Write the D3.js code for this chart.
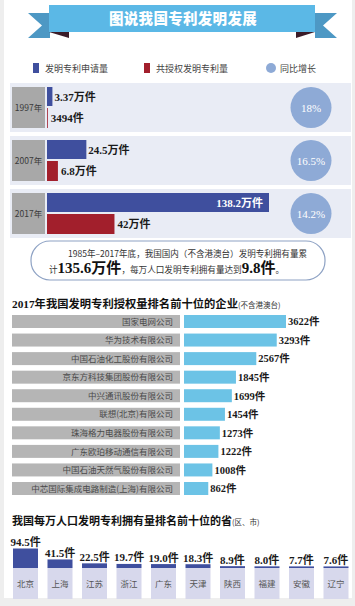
<!DOCTYPE html>
<html><head><meta charset="utf-8">
<script src="https://cdn.jsdelivr.net/npm/d3@7"></script>
<style>
html,body{margin:0;padding:0;background:#eeeeee;}
svg{display:block;}
</style></head>
<body>
<svg id="c" width="355" height="606"></svg>
<script>
// ---- data ----
const years = ["1997年", "2007年", "2017年"];
const applications = [3.37, 24.5, 138.2];          // 万件
const grants = [0.3494, 6.8, 42];                  // 万件
const applicationLabels = ["3.37万件", "24.5万件", "138.2万件"];
const grantLabels = ["3494件", "6.8万件", "42万件"];
const growthLabels = ["18%", "16.5%", "14.2%"];

const companies = ["国家电网公司", "华为技术有限公司", "中国石油化工股份有限公司", "京东方科技集团股份有限公司",
  "中兴通讯股份有限公司", "联想(北京)有限公司", "珠海格力电器股份有限公司", "广东欧珀移动通信有限公司",
  "中国石油天然气股份有限公司", "中芯国际集成电路制造(上海)有限公司"];
const companyValues = [3622, 3293, 2567, 1845, 1699, 1454, 1273, 1222, 1008, 862];

const provinces = ["北京", "上海", "江苏", "浙江", "广东", "天津", "陕西", "福建", "安徽", "辽宁"];
const provinceValues = [94.5, 41.5, 22.5, 19.7, 19.0, 18.3, 8.9, 8.0, 7.7, 7.6];
const provinceLabels = ["94.5件", "41.5件", "22.5件", "19.7件", "19.0件", "18.3件", "8.9件", "8.0件", "7.7件", "7.6件"];

// ---- style ----
const BLUE = "#3f4f9e", RED = "#a21f2c", CIRCLE = "#8eaad6", SKY = "#6cc3e6";
const SANS = "'Noto Sans CJK SC','Noto Sans',sans-serif";
const SERIF = "'Liberation Serif','DejaVu Serif','Noto Sans CJK SC',serif";

const svg = d3.select("#c");
svg.append("rect").attr("x", 0).attr("y", 0).attr("width", 355).attr("height", 606).attr("fill", "#eeeeee");
svg.append("rect").attr("x", 4).attr("y", 0).attr("width", 348).attr("height", 598).attr("fill", "#ffffff");

// ---- banner ----
const ban = svg.append("g");
ban.append("path").attr("d", "M28,13 L50,13 L50,38 L28,38 L42,25.5 Z").attr("fill", "#4d98c4");
ban.append("path").attr("d", "M337,13 L315,13 L315,38 L337,38 L323,25.5 Z").attr("fill", "#4d98c4");
ban.append("path").attr("d", "M49,32 L69,32 L69,38 Z").attr("fill", "#3b1c28");
ban.append("path").attr("d", "M315,32 L296,32 L296,38 Z").attr("fill", "#3b1c28");
ban.append("rect").attr("x", 49).attr("y", 5).attr("width", 266).attr("height", 27).attr("fill", "#5bb8e6");
ban.append("text").attr("x", 183).attr("y", 23.5).attr("text-anchor", "middle")
  .attr("font-family", SANS).attr("font-weight", 900).attr("font-size", 14.5).attr("fill", "#fff")
  .attr("letter-spacing", 0.3).text("图说我国专利发明发展");

// ---- legend ----
const leg = svg.append("g").attr("font-family", SANS).attr("font-size", 9).attr("fill", "#444");
leg.append("rect").attr("x", 33).attr("y", 63).attr("width", 6).attr("height", 10).attr("fill", BLUE);
leg.append("text").attr("x", 45).attr("y", 71.5).text("发明专利申请量");
leg.append("rect").attr("x", 144).attr("y", 63).attr("width", 6).attr("height", 10).attr("fill", RED);
leg.append("text").attr("x", 156).attr("y", 71.5).text("共授权发明专利量");
leg.append("circle").attr("cx", 271).attr("cy", 68).attr("r", 5).attr("fill", CIRCLE);
leg.append("text").attr("x", 280).attr("y", 71.5).text("同比增长");

// ---- year section ----
const yRow = d3.scaleBand().domain(years).range([87, 246]).paddingInner(0);
const xYear = d3.scaleLinear().domain([0, 138.2]).range([0, 222]);
const X0 = 47;
const rows = svg.append("g").selectAll("g").data(years).join("g")
  .attr("transform", d => `translate(0,${yRow(d)})`);
rows.append("rect").attr("x", 10).attr("y", -4).attr("width", 341).attr("height", 49).attr("fill", "#e9ecf5");
rows.append("rect").attr("x", 12).attr("y", 0).attr("width", 33).attr("height", 41).attr("fill", "#a8a8a8");
rows.append("text").attr("x", 28.5).attr("y", 24).attr("text-anchor", "middle")
  .attr("font-family", SANS).attr("font-size", 8.5).attr("fill", "#3a3a3a").text(d => d);
rows.append("rect").attr("x", X0).attr("y", 0).attr("height", 19)
  .attr("width", (d, i) => xYear(applications[i])).attr("fill", BLUE);
rows.append("rect").attr("x", X0).attr("y", 21).attr("height", 20)
  .attr("width", (d, i) => Math.max(0.8, xYear(grants[i]))).attr("fill", RED);
rows.append("text")
  .attr("x", (d, i) => i === 2 ? X0 + xYear(applications[i]) - 6 : X0 + xYear(applications[i]) + 2)
  .attr("text-anchor", (d, i) => i === 2 ? "end" : "start")
  .attr("y", 13.5).attr("font-family", SERIF).attr("font-weight", "bold").attr("font-size", 11)
  .attr("fill", (d, i) => i === 2 ? "#fff" : "#1a1a1a").text((d, i) => applicationLabels[i]);
rows.append("text")
  .attr("x", (d, i) => X0 + Math.max(0.8, xYear(grants[i])) + 3)
  .attr("y", 35).attr("font-family", SERIF).attr("font-weight", "bold").attr("font-size", 11)
  .attr("fill", "#1a1a1a").text((d, i) => grantLabels[i]);
rows.append("circle").attr("cx", 311).attr("cy", 20.5).attr("r", 20.5).attr("fill", CIRCLE);
rows.append("text").attr("x", 311).attr("y", 24.5).attr("text-anchor", "middle")
  .attr("font-family", SERIF).attr("font-size", 11).attr("fill", "#fff").text((d, i) => growthLabels[i]);

// ---- summary box ----
svg.append("rect").attr("x", 31).attr("y", 241).attr("width", 294).attr("height", 39)
  .attr("rx", 19).attr("ry", 19).attr("fill", "#fff").attr("stroke", "#8ea2c4").attr("stroke-width", 1.2);
svg.append("text").attr("x", 68).attr("y", 256.5).attr("font-family", SANS).attr("font-size", 8.6)
  .attr("fill", "#333").attr("textLength", 239).attr("lengthAdjust", "spacingAndGlyphs")
  .text("1985年–2017年底，我国国内（不含港澳台）发明专利拥有量累");
const t2 = svg.append("text").attr("x", 49).attr("y", 273).attr("font-family", SANS).attr("font-size", 8.6).attr("fill", "#333");
t2.append("tspan").text("计");
t2.append("tspan").attr("font-family", SERIF).attr("font-weight", "bold").attr("font-size", 15).attr("fill", "#111").text("135.6万件");
t2.append("tspan").text("，每万人口发明专利拥有量达到");
t2.append("tspan").attr("font-family", SERIF).attr("font-weight", "bold").attr("font-size", 15).attr("fill", "#111").text("9.8件");
t2.append("tspan").text("。");

// ---- companies ----
const h2 = svg.append("text").attr("x", 12).attr("y", 307.5).attr("font-family", SERIF).attr("font-weight", "bold")
  .attr("font-size", 11.3).attr("fill", "#111");
h2.append("tspan").text("2017年我国发明专利授权量排名前十位的企业");
h2.append("tspan").attr("font-family", SANS).attr("font-weight", "normal").attr("font-size", 7.5).attr("fill", "#333").text("(不含港澳台)");

const yComp = d3.scaleBand().domain(companies).range([315, 495]).paddingInner(0.3);
const xComp = d3.scaleLinear().domain([0, 3622]).range([0, 102]);
const cg = svg.append("g").selectAll("g").data(companies).join("g")
  .attr("transform", d => `translate(0,${yComp(d)})`);
cg.append("rect").attr("x", 12).attr("width", 168).attr("height", yComp.bandwidth()).attr("fill", "#b5b5b5");
cg.append("text").attr("x", 173).attr("y", yComp.bandwidth() / 2 + 3.2).attr("text-anchor", "end")
  .attr("font-family", SANS).attr("font-size", 8.5).attr("fill", "#4a4a4a").text(d => d);
cg.append("rect").attr("x", 184).attr("width", (d, i) => xComp(companyValues[i]))
  .attr("height", yComp.bandwidth()).attr("fill", SKY);
cg.append("text").attr("x", (d, i) => 184 + xComp(companyValues[i]) + 2).attr("y", yComp.bandwidth() / 2 + 3.8)
  .attr("font-family", SERIF).attr("font-weight", "bold").attr("font-size", 10.5).attr("fill", "#1a1a1a")
  .text((d, i) => companyValues[i] + "件");

// ---- provinces ----
const h3 = svg.append("text").attr("x", 12).attr("y", 525).attr("font-family", SERIF).attr("font-weight", "bold")
  .attr("font-size", 11).attr("fill", "#111");
h3.append("tspan").text("我国每万人口发明专利拥有量排名前十位的省");
h3.append("tspan").attr("font-family", SANS).attr("font-weight", "normal").attr("font-size", 7.5).attr("fill", "#333").text("(区、市)");

const xProv = d3.scaleBand().domain(provinces).range([13, 348.5]).paddingInner(0.2754).paddingOuter(0);
const yProv = d3.scaleLinear().domain([0, 94.5]).range([568, 548.5]);
const pg = svg.append("g").selectAll("g").data(provinces).join("g")
  .attr("transform", d => `translate(${xProv(d)},0)`);
const bw = xProv.bandwidth();
pg.append("rect").attr("x", 0).attr("y", 568).attr("width", bw).attr("height", 31).attr("fill", "#d7d8ec");
pg.append("rect").attr("x", 0).attr("y", (d, i) => Math.min(yProv(provinceValues[i]), 566.5)).attr("width", bw)
  .attr("height", (d, i) => 568 - Math.min(yProv(provinceValues[i]), 566.5)).attr("fill", BLUE);
pg.append("text").attr("x", bw / 2).attr("y", 587).attr("text-anchor", "middle")
  .attr("font-family", SANS).attr("font-size", 8.5).attr("fill", "#555").text(d => d);
pg.append("text").attr("x", bw / 2).attr("y", (d, i) => Math.min(yProv(provinceValues[i]), 566.5) - 2.5)
  .attr("text-anchor", "middle").attr("font-family", SERIF).attr("font-weight", "bold").attr("font-size", 11)
  .attr("fill", "#1a1a1a").text((d, i) => provinceLabels[i]);
</script>
</body></html>
